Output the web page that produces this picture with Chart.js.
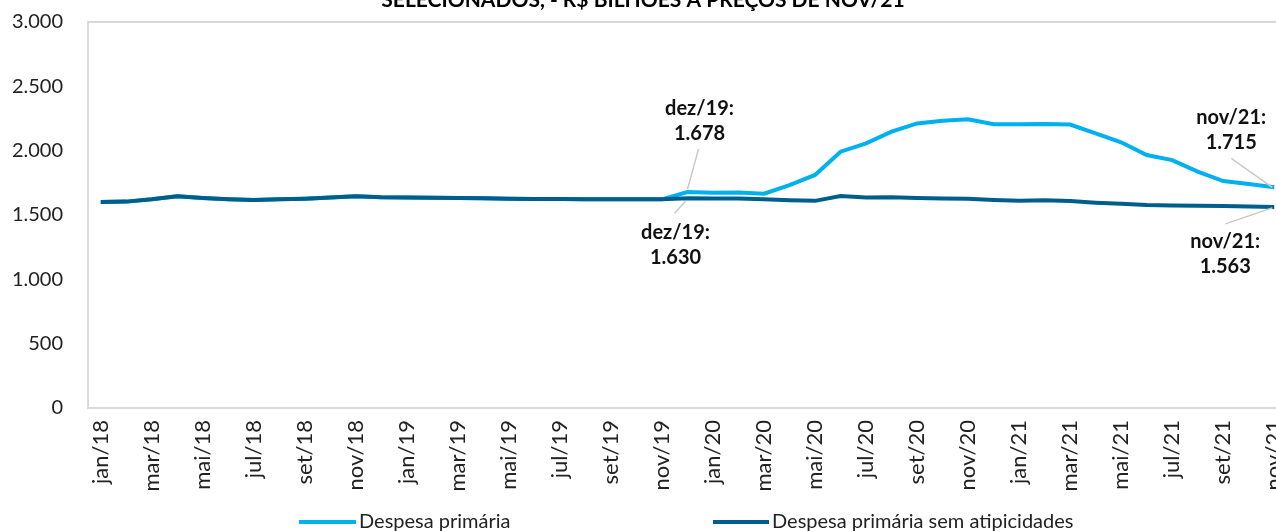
<!DOCTYPE html>
<html>
<head>
<meta charset="utf-8">
<script src="https://cdn.jsdelivr.net/npm/chart.js@4.4.1/dist/chart.umd.min.js"></script>
<style>
  html, body { margin: 0; padding: 0; background: #fff; overflow: hidden; }
  #wrap { position: relative; width: 1276px; height: 531px; overflow: hidden; }
  #chart { position: absolute; left: 0; top: -12px; }
</style>
</head>
<body>
<div id="wrap"><canvas id="chart" width="1290" height="543"></canvas></div>
<script>
// Chart title (only the lower line is visible in the source image)
const chartTitle = 'SELECIONADOS, - R$ BILHÕES A PREÇOS DE NOV/21';

// Monthly categories jan/18 .. nov/21
const months = [
  'jan/18', 'fev/18', 'mar/18', 'abr/18', 'mai/18', 'jun/18', 'jul/18', 'ago/18', 'set/18', 'out/18', 'nov/18', 'dez/18',
  'jan/19', 'fev/19', 'mar/19', 'abr/19', 'mai/19', 'jun/19', 'jul/19', 'ago/19', 'set/19', 'out/19', 'nov/19', 'dez/19',
  'jan/20', 'fev/20', 'mar/20', 'abr/20', 'mai/20', 'jun/20', 'jul/20', 'ago/20', 'set/20', 'out/20', 'nov/20', 'dez/20',
  'jan/21', 'fev/21', 'mar/21', 'abr/21', 'mai/21', 'jun/21', 'jul/21', 'ago/21', 'set/21', 'out/21', 'nov/21'
];

// R$ bilhões
const despesaPrimaria = [
  1601, 1604, 1622, 1645, 1632, 1623, 1617, 1622, 1627, 1636, 1645, 1637,
  1636, 1635, 1632, 1630, 1627, 1625, 1624, 1623, 1622, 1622, 1622, 1678,
  1672, 1674, 1666, 1733, 1811, 1992, 2057, 2148, 2212, 2233, 2244, 2205,
  2205, 2208, 2203, 2135, 2065, 1966, 1927, 1837, 1764, 1741, 1715
];

const despesaSemAtipicidades = [
  1601, 1604, 1622, 1645, 1632, 1623, 1617, 1622, 1627, 1636, 1645, 1637,
  1636, 1635, 1632, 1630, 1627, 1625, 1624, 1623, 1622, 1622, 1622, 1630,
  1628, 1629, 1622, 1615, 1610, 1648, 1636, 1637, 1632, 1628, 1627, 1617,
  1610, 1615, 1608, 1596, 1588, 1578, 1573, 1571, 1570, 1567, 1563
];

const seriesNames = ['Despesa primária', 'Despesa primária sem atipicidades'];
const seriesColors = ['#00b0f0', '#005e8c'];

// points that carry a callout label: [dataset, month index]
const calloutPoints = [[0, 23], [1, 23], [0, 46], [1, 46]];

const fmt = v => String(v).replace(/\B(?=(\d{3})+(?!\d))/g, '.');

Chart.defaults.font.family = 'Lato';

// label offsets relative to the point (text line 1 centre, line 2 centre, leader start, leader end)
const calloutStyle = [
  { dx: 12, dy1: -84, dy2: -59, l: [11, -43, 0, -3] },
  { dx: -12, dy1: 34, dy2: 59, l: [-2, 3, -13, 15] },
  { dx: -43, dy1: -70, dy2: -45, l: [-43, -29, -2, 0] },
  { dx: -49, dy1: 35, dy2: 60, l: [-2, 1, -49, 17] }
];

const decor = {
  id: 'decor',
  afterDraw(chart) {
    const { ctx, chartArea } = chart;
    ctx.save();
    // top frame line of the plot area
    ctx.strokeStyle = '#d9d9d9';
    ctx.lineWidth = 2;
    ctx.beginPath();
    ctx.moveTo(chartArea.left, chartArea.top);
    ctx.lineTo(chartArea.right, chartArea.top);
    ctx.stroke();

    // title
    ctx.fillStyle = '#000';
    ctx.font = 'bold 21px Lato';
    ctx.textAlign = 'center';
    ctx.textBaseline = 'alphabetic';
    ctx.fillText(chartTitle, 643, 19);

    // callouts
    calloutPoints.forEach(([ds, idx], k) => {
      const pt = chart.getDatasetMeta(ds).data[idx];
      const s = calloutStyle[k];
      const val = chart.data.datasets[ds].data[idx];
      ctx.strokeStyle = '#c8c8c8';
      ctx.lineWidth = 1.5;
      ctx.beginPath();
      ctx.moveTo(pt.x + s.l[0], pt.y + s.l[1]);
      ctx.lineTo(pt.x + s.l[2], pt.y + s.l[3]);
      ctx.stroke();
      ctx.fillStyle = '#111';
      ctx.font = 'bold 20px Lato';
      ctx.textAlign = 'center';
      ctx.textBaseline = 'middle';
      ctx.fillText(months[idx] + ':', pt.x + s.dx, pt.y + s.dy1);
      ctx.fillText(fmt(val), pt.x + s.dx, pt.y + s.dy2);
    });

    // legend
    const legendY = 534;
    const legendX = [[299, 356, 359], [713, 769, 772]];
    ctx.font = '20px Lato';
    ctx.textAlign = 'left';
    ctx.textBaseline = 'middle';
    legendX.forEach(([x1, x2, tx], i) => {
      ctx.strokeStyle = seriesColors[i];
      ctx.lineWidth = 4;
      ctx.beginPath();
      ctx.moveTo(x1, legendY);
      ctx.lineTo(x2, legendY);
      ctx.stroke();
      ctx.fillStyle = '#222';
      ctx.fillText(seriesNames[i], tx, legendY);
    });
    ctx.restore();
  }
};

const ctx = document.getElementById('chart').getContext('2d');

const chart = new Chart(ctx, {
  type: 'line',
  data: {
    labels: months,
    datasets: [{
      label: seriesNames[0],
      data: despesaPrimaria,
      borderColor: seriesColors[0],
      backgroundColor: seriesColors[0],
      borderWidth: 4,
      pointRadius: 0,
      tension: 0,
      order: 1
    }, {
      label: seriesNames[1],
      data: despesaSemAtipicidades,
      borderColor: seriesColors[1],
      backgroundColor: seriesColors[1],
      borderWidth: 4,
      pointRadius: 0,
      tension: 0,
      order: 0
    }]
  },
  options: {
    responsive: false,
    animation: false,
    devicePixelRatio: 1,
    layout: { padding: { top: 34, left: 0, right: 3, bottom: 0 } },
    plugins: {
      legend: { display: false },
      tooltip: { enabled: false }
    },
    scales: {
      x: {
        offset: true,
        grid: { drawOnChartArea: false, drawTicks: false },
        border: { color: '#d9d9d9', width: 2 },
        ticks: {
          autoSkip: false,
          minRotation: 90,
          maxRotation: 90,
          padding: 12,
          color: '#222',
          font: { size: 22 },
          callback: (v, i) => (i % 2 === 0 ? months[i] : '')
        },
        afterFit: s => {
          s.height = 123;
          s.paddingLeft = 0;
          s.paddingRight = 0;
        }
      },
      y: {
        min: 0,
        max: 3000,
        grid: { drawOnChartArea: false, drawTicks: false },
        border: { color: '#d9d9d9', width: 2 },
        ticks: {
          stepSize: 500,
          padding: 25,
          color: '#222',
          font: { size: 20 },
          callback: v => fmt(v)
        },
        afterFit: s => { s.width = 88; s.paddingTop = 0; s.paddingBottom = 0; }
      }
    }
  },
  plugins: [decor]
});
</script>
</body>
</html>
